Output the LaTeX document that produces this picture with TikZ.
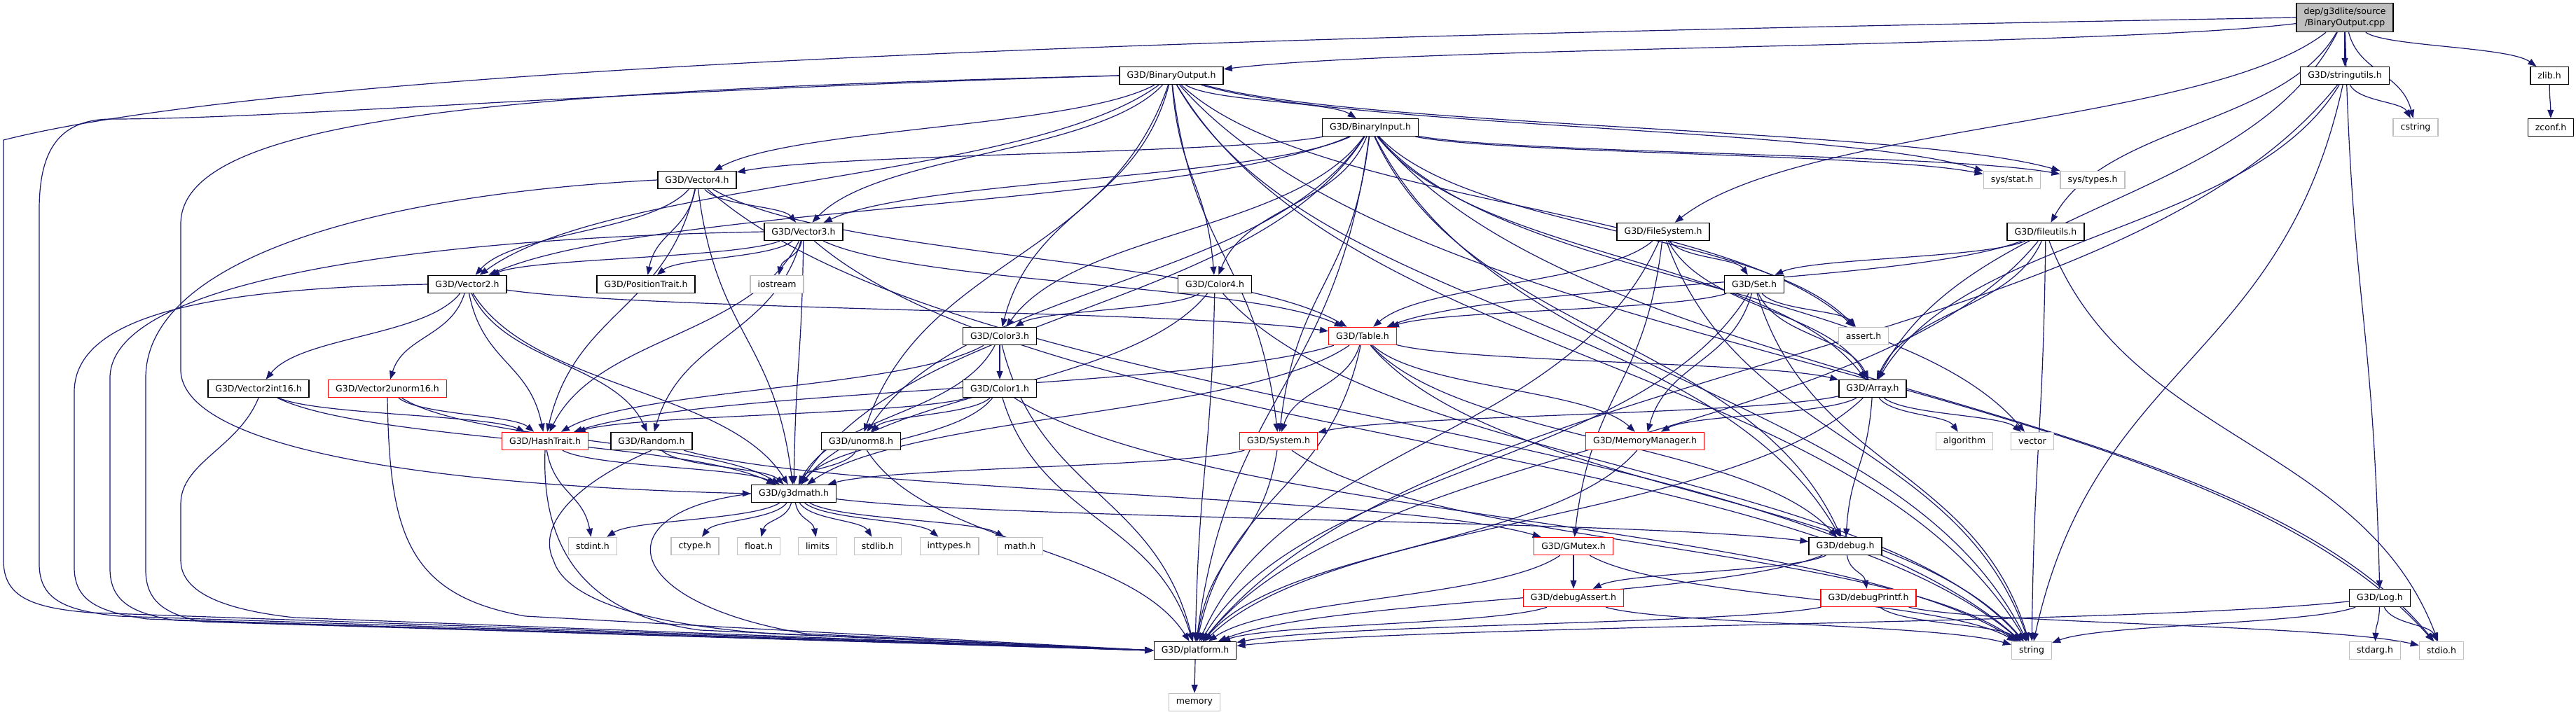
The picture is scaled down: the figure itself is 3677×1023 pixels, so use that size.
\documentclass[tikz,border=0pt]{standalone}
\usepackage{fontspec}
\setmainfont{DejaVu Sans}
\usetikzlibrary{arrows.meta,calc}
\definecolor{ecol}{HTML}{191970}
\definecolor{gbox}{HTML}{BFBFBF}
\pgfdeclarelayer{bgl}\pgfdeclarelayer{edl}\pgfsetlayers{bgl,edl,main}
\tikzset{
 box/.style={draw=black, fill=white, line width=1.4pt, inner xsep=10.5pt, inner ysep=0pt, minimum height=25pt, font=\fontsize{12.5}{15.5}\selectfont},
 rbox/.style={box, draw=red},
 xbox/.style={box, draw=gbox},
 edge/.style={draw=ecol, line width=1.2pt, -{Triangle[length=12pt,width=9pt]}},
}
\newcommand\E[2]{%
 \pgfpointanchor{#1}{center}\pgfgetlastxy\xa\ya
 \pgfpointanchor{#2}{center}\pgfgetlastxy\xb\yb
 \pgfmathsetmacro\ddx{((\xb)-(\xa))/100}%
 \pgfmathsetmacro\ddy{((\yb)-(\ya))/100}%
 \pgfmathsetmacro\cax{\xa+20*\ddx}%
 \pgfmathsetmacro\cay{\ya+50*\ddy}%
 \pgfmathsetmacro\cbx{\xb-20*\ddx}%
 \pgfmathsetmacro\cby{\yb-50*\ddy}%
 \draw[edge] (#1) .. controls (\cax pt,\cay pt) and (\cbx pt,\cby pt) .. (#2);}
\newcommand\EL[2]{\foreach \t in {#2}{\E{#1}{\t}}}
\begin{document}
\begin{tikzpicture}[x=1pt,y=-1pt]
\begin{pgfonlayer}{bgl}
\fill[white] (0,0) rectangle (3677,1023);
\end{pgfonlayer}
\useasboundingbox (0,0) rectangle (3677,1023);
% nodes
\node[box, fill=gbox, align=center, minimum height=41pt] (top) at (3347,25) {dep/g3dlite/source\\/BinaryOutput.cpp};
\node[box] (BO) at (1672,108) {G3D/BinaryOutput.h};
\node[box] (SU) at (3347,108) {G3D/stringutils.h};
\node[box] (ZL) at (3639,108) {zlib.h};
\node[box] (BI) at (1956,182) {G3D/BinaryInput.h};
\node[xbox] (CS) at (3448,182) {cstring};
\node[box] (ZC) at (3641,182) {zconf.h};
\node[box] (V4) at (995,257) {G3D/Vector4.h};
\node[xbox] (SS) at (2872,257) {sys/stat.h};
\node[xbox] (ST) at (2987,257) {sys/types.h};
\node[box] (V3) at (1147,331) {G3D/Vector3.h};
\node[box] (FS) at (2374,331) {G3D/FileSystem.h};
\node[box] (FU) at (2920,331) {G3D/fileutils.h};
\node[box] (V2) at (667,406) {G3D/Vector2.h};
\node[box] (PT) at (922,406) {G3D/PositionTrait.h};
\node[xbox] (IO) at (1109,406) {iostream};
\node[box] (C4) at (1734,406) {G3D/Color4.h};
\node[box] (SET) at (2504,406) {G3D/Set.h};
\node[box] (C3) at (1427,480) {G3D/Color3.h};
\node[rbox] (TB) at (1945,480) {G3D/Table.h};
\node[xbox] (AS) at (2660,480) {assert.h};
\node[box] (V2i) at (369,555) {G3D/Vector2int16.h};
\node[rbox] (V2u) at (553,555) {G3D/Vector2unorm16.h};
\node[box] (C1) at (1427,555) {G3D/Color1.h};
\node[box] (AR) at (2673,555) {G3D/Array.h};
\node[xbox] (ALG) at (2804,630) {algorithm};
\node[xbox] (VEC) at (2901,630) {vector};
\node[rbox] (HT) at (778,630) {G3D/HashTrait.h};
\node[box] (RND) at (930,630) {G3D/Random.h};
\node[box] (U8) at (1229,630) {G3D/unorm8.h};
\node[rbox] (SYS) at (1825,630) {G3D/System.h};
\node[rbox] (MM) at (2348,630) {G3D/MemoryManager.h};
\node[box] (GM) at (1133,705) {G3D/g3dmath.h};
\node[xbox] (SI) at (846,780) {stdint.h};
\node[xbox] (CT) at (992,780) {ctype.h};
\node[xbox] (FL) at (1083,780) {float.h};
\node[xbox] (LIM) at (1167,780) {limits};
\node[xbox] (SL) at (1253,780) {stdlib.h};
\node[xbox] (IT) at (1355,780) {inttypes.h};
\node[xbox] (MA) at (1456,780) {math.h};
\node[rbox] (GMX) at (2246,780) {G3D/GMutex.h};
\node[box] (DBG) at (2634,780) {G3D/debug.h};
\node[rbox] (DA) at (2246,854) {G3D/debugAssert.h};
\node[rbox] (DP) at (2667,854) {G3D/debugPrintf.h};
\node[box] (LOG) at (3397,854) {G3D/Log.h};
\node[box] (PL) at (1706,929) {G3D/platform.h};
\node[xbox] (STR) at (2900,929) {string};
\node[xbox] (SA) at (3390,929) {stdarg.h};
\node[xbox] (SIO) at (3485,929) {stdio.h};
\node[xbox] (MEM) at (1705,1003) {memory};
% edges
\begin{pgfonlayer}{edl}
\draw[edge] (top.west) .. controls (2200,45) and (500,75) .. (5,200) -- (5,800) .. controls (5,850) and (40,868) .. (130,875) -- (PL.west);
\draw[edge] (BO.west) .. controls (900,128) and (400,170) .. (160,170) .. controls (80,170) and (56,220) .. (56,300) -- (56,805) .. controls (56,855) and (90,872) .. (170,880) -- (PL.west);
\draw[edge] (BO.west) .. controls (700,130) and (258,170) .. (258,320) -- (258,530) .. controls (262,620) and (500,690) .. (GM.west);
\draw[edge] (V2.west) .. controls (300,412) and (106,450) .. (106,560) -- (106,810) .. controls (106,858) and (140,874) .. (210,884) -- (PL.west);
\draw[edge] (V3.west) .. controls (600,340) and (157,400) .. (157,540) -- (157,812) .. controls (157,860) and (190,876) .. (250,886) -- (PL.west);
\draw[edge] (V4.west) .. controls (500,280) and (208,380) .. (208,540) -- (208,814) .. controls (208,862) and (240,878) .. (290,888) -- (PL.west);
\draw[edge] (V2i.south) .. controls (340,640) and (258,660) .. (258,720) -- (258,800) .. controls (258,850) and (330,872) .. (420,882) -- (PL.west);
\draw[edge] (V2u.south) .. controls (556,760) and (580,850) .. (750,880) -- (PL.west);
\draw[edge] (HT.south) .. controls (772,800) and (850,880) .. (1000,900) -- (PL.west);
\draw[edge] (RND.south) .. controls (800,700) and (770,760) .. (790,800) .. controls (805,850) and (900,890) .. (1100,905) -- (PL.west);
\draw[edge] (GM.west) .. controls (860,730) and (880,860) .. (1150,905) -- (PL.west);
\EL{top}{BO,SU,ZL,CS,FS,FU,AR,LOG}
\EL{BO}{V2,V4,V3,C3,C4,U8,SYS,BI,SS,ST,SIO,AS,DBG,STR}
\EL{BI}{PL,GM,V2,V4,V3,C3,C4,U8,SYS,SS,ST,SIO,AS,DBG,STR,AR,VEC}
\EL{V4}{GM,V3,V2,TB,HT,PT,STR}
\EL{V3}{GM,V2,TB,HT,PT,IO,RND,STR}
\EL{V2}{GM,TB,HT,V2i,V2u,RND}
\EL{V2i}{HT,GM}
\EL{V2u}{HT,GM}
\EL{HT}{SI,GM}
\EL{RND}{GM,GMX}
\EL{U8}{PL,GM}
\EL{C4}{PL,GM,C3,STR}
\EL{C3}{PL,GM,HT,C1}
\EL{C1}{PL,GM,U8,HT,STR}
\EL{GM}{CT,FL,LIM,SL,IT,MA,SI,DBG}
\EL{TB}{PL,GM,HT,AR,SYS,MM,DBG,STR}
\EL{SET}{TB,AR,MM,PL,AS,STR}
\EL{FS}{PL,AR,TB,SET,GMX,STR}
\EL{FU}{PL,AR,SET,TB,STR,SIO}
\EL{AR}{PL,DBG,SYS,MM,ALG,VEC}
\EL{SYS}{PL,GM,STR}
\EL{MM}{PL}
\EL{GMX}{PL,DA,STR}
\EL{DBG}{PL,DA,DP}
\EL{DA}{PL,STR}
\EL{DP}{PL,STR,SIO}
\EL{LOG}{PL,STR,SA,SIO}
\EL{SU}{PL,AR,STR,CS}
\EL{ZL}{ZC}
\EL{PL}{MEM}
\end{pgfonlayer}
\end{tikzpicture}
\end{document}
